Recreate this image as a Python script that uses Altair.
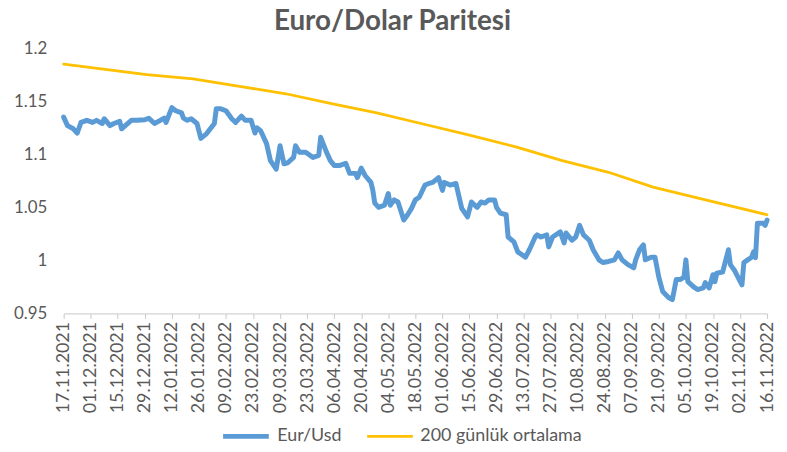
import altair as alt
import pandas as pd

START = "2021-11-17"
END = "2022-11-16"

usd_days = [0, 2, 5, 7, 9, 12, 15, 17, 20, 21, 24, 26, 29, 30, 35, 38, 42, 44, 47, 50,
            52, 53, 56, 58, 61, 62, 64, 66, 69, 71, 74, 78, 79, 81, 84, 87, 89, 92, 94, 97,
            99, 100, 102, 105, 107, 110, 112, 114, 116, 119, 120, 122, 125, 126, 129, 132, 133, 136, 138, 140,
            143, 146, 148, 151, 152, 154, 156, 159, 160, 161, 163, 166, 168, 169, 171, 173, 176, 178, 180, 182,
            184, 187, 189, 191, 194, 196, 197, 200, 203, 206, 209, 211, 214, 216, 218, 220, 223, 224, 226, 229,
            230, 233, 235, 239, 241, 244, 245, 247, 250, 251, 253, 257, 259, 260, 263, 265, 267, 269, 272, 274,
            277, 279, 282, 285, 287, 289, 292, 295, 296, 298, 300, 301, 304, 306, 308, 310, 313, 315, 317, 319,
            321, 322, 323, 326, 328, 331, 332, 334, 336, 337, 338, 341, 342, 344, 345, 347, 349, 351, 352, 354,
            356, 357, 358, 359, 362, 363, 364]
usd_values = [1.135, 1.127, 1.124, 1.120, 1.130, 1.132, 1.130, 1.132, 1.129, 1.1335, 1.127, 1.129, 1.131, 1.124, 1.132, 1.132, 1.1325, 1.134, 1.129, 1.132,
              1.134, 1.130, 1.144, 1.141, 1.139, 1.134, 1.132, 1.1335, 1.129, 1.115, 1.1195, 1.129, 1.143, 1.143, 1.141, 1.1335, 1.130, 1.136, 1.132, 1.132,
              1.120, 1.125, 1.122, 1.110, 1.094, 1.086, 1.108, 1.091, 1.092, 1.097, 1.108, 1.102, 1.102, 1.101, 1.097, 1.099, 1.116, 1.102, 1.094, 1.0895,
              1.0895, 1.0915, 1.082, 1.082, 1.078, 1.087, 1.080, 1.0735, 1.066, 1.054, 1.050, 1.052, 1.063, 1.052, 1.057, 1.055, 1.038, 1.043, 1.049, 1.057,
              1.0595, 1.071, 1.0725, 1.0735, 1.078, 1.066, 1.0735, 1.071, 1.0725, 1.049, 1.041, 1.055, 1.050, 1.055, 1.054, 1.057, 1.057, 1.050, 1.0445, 1.043,
              1.022, 1.0175, 1.008, 1.003, 1.010, 1.022, 1.024, 1.022, 1.024, 1.0127, 1.022, 1.0268, 1.0165, 1.0258, 1.019, 1.022, 1.033, 1.024, 1.019, 1.010,
              1.0005, 0.998, 0.999, 1.0005, 1.007, 1.0005, 0.996, 0.993, 1.0005, 1.010, 1.0146, 1.0005, 1.003, 1.003, 0.984, 0.9706, 0.965, 0.963, 0.982, 0.982,
              0.984, 1.0005, 0.980, 0.975, 0.9725, 0.974, 0.979, 0.974, 0.9865, 0.980, 0.988, 0.989, 0.996, 1.010, 0.996, 0.991, 0.984, 0.977, 0.998, 1.0005,
              1.003, 1.008, 1.0025, 1.035, 1.035, 1.033, 1.038]

ma_days = [0, 43, 67, 91, 115, 138, 162, 186, 210, 234, 258, 282, 305, 330, 364]
ma_values = [1.185, 1.175, 1.171, 1.164, 1.157, 1.148, 1.139, 1.1285, 1.118, 1.107, 1.094, 1.083, 1.069, 1.058, 1.043]

series_names = ["Eur/Usd", "200 günlük ortalama"]
series_colors = ["#5B9BD5", "#FFC000"]
series_widths = [5, 2.75]
y_ticks = [0.95, 1.0, 1.05, 1.1, 1.15, 1.2]

start = pd.Timestamp(START)


def to_date(d):
    return (start + pd.Timedelta(days=d)).strftime("%Y-%m-%d")


rows = []
for d, v in zip(usd_days, usd_values):
    rows.append({"date": to_date(d), "value": v, "series": series_names[0]})
for d, v in zip(ma_days, ma_values):
    rows.append({"date": to_date(d), "value": v, "series": series_names[1]})
df = pd.DataFrame(rows)

tick_dates = pd.date_range(START, END, freq="14D", tz="UTC")
tick_values = [int(t.timestamp() * 1000) for t in tick_dates]

FONT = "Lato"
TXT = "#595959"

x = alt.X(
    "date:T",
    scale=alt.Scale(type="utc", domain=[START, END]),
    axis=alt.Axis(
        values=tick_values,
        labelExpr="utcFormat(datum.value, '%d.%m.%Y')",
        labelAngle=-90,
        labelFont=FONT,
        labelFontSize=18,
        labelColor=TXT,
        labelPadding=3,
        tickSize=5,
        tickColor="#C8C8C8",
        domainColor="#C8C8C8",
        grid=False,
        title=None,
        labelOverlap=False,
        labelBound=False,
        labelFlush=False,
        labelLimit=200,
    ),
)
y = alt.Y(
    "value:Q",
    scale=alt.Scale(domain=[0.95, 1.2], nice=False, zero=False),
    axis=alt.Axis(
        values=y_ticks,
        format=".2~f",
        labelFont=FONT,
        labelFontSize=17,
        labelColor=TXT,
        labelPadding=17,
        ticks=False,
        domain=False,
        grid=False,
        title=None,
    ),
)

legend = alt.Legend(
    title=None,
    orient="none",
    direction="horizontal",
    legendX=158,
    legendY=365,
    symbolType="stroke",
    symbolSize=2116,
    labelFont=FONT,
    labelFontSize=18,
    labelColor=TXT,
    labelOffset=6,
    labelLimit=300,
    columnPadding=20,
)

chart = (
    alt.Chart(df)
    .mark_line(strokeCap="round", strokeJoin="round")
    .encode(
        x=x,
        y=y,
        color=alt.Color("series:N", scale=alt.Scale(domain=series_names, range=series_colors), legend=legend),
        strokeWidth=alt.StrokeWidth("series:N", scale=alt.Scale(domain=series_names, range=series_widths), legend=legend),
        order=alt.Order("date:T"),
        detail="series:N",
    )
    .properties(
        width=708,
        height=267,
        autosize=alt.AutoSizeParams(type="none"),
        padding={"left": 56, "top": 39, "right": 12, "bottom": 130},
        title=alt.TitleParams(
            "Euro/Dolar Paritesi",
            font=FONT,
            fontSize=28,
            fontWeight="bold",
            color=TXT,
            anchor="middle",
            dx=-23,
            offset=3,
        ),
    )
    .configure_view(stroke=None)
)

chart.save("out.html", embed_options={"renderer": "svg", "actions": False})
